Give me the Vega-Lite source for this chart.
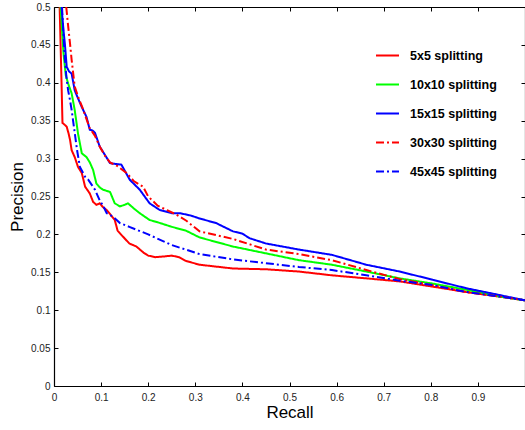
{
  "$schema": "https://vega.github.io/schema/vega-lite/v6.json",
  "autosize": "none",
  "padding": {"left": 54, "top": 7, "right": 0, "bottom": 44},
  "width": 471,
  "height": 379,
  "background": "white",
  "config": {
    "view": {"stroke": null},
    "font": "Liberation Sans",
    "axis": {
      "grid": false,
      "domainColor": "black",
      "domainWidth": 1.2,
      "tickColor": "black",
      "tickWidth": 1,
      "tickSize": -4,
      "labelFont": "Liberation Sans",
      "labelFontSize": 10,
      "labelColor": "#222",
      "labelFlush": false,
      "labelOverlap": false,
      "titleFont": "Liberation Sans",
      "titleFontSize": 17,
      "titleFontWeight": "normal",
      "titleColor": "black"
    }
  },
  "data": {
    "values": [
      {"s": "5x5 splitting", "r": 0.012, "p": 0.5},
      {"s": "5x5 splitting", "r": 0.016, "p": 0.40},
      {"s": "5x5 splitting", "r": 0.018, "p": 0.347},
      {"s": "5x5 splitting", "r": 0.022, "p": 0.345},
      {"s": "5x5 splitting", "r": 0.027, "p": 0.342},
      {"s": "5x5 splitting", "r": 0.031, "p": 0.333},
      {"s": "5x5 splitting", "r": 0.034, "p": 0.325},
      {"s": "5x5 splitting", "r": 0.0375, "p": 0.311},
      {"s": "5x5 splitting", "r": 0.044, "p": 0.302},
      {"s": "5x5 splitting", "r": 0.051, "p": 0.289},
      {"s": "5x5 splitting", "r": 0.059, "p": 0.281},
      {"s": "5x5 splitting", "r": 0.066, "p": 0.263},
      {"s": "5x5 splitting", "r": 0.076, "p": 0.254},
      {"s": "5x5 splitting", "r": 0.083, "p": 0.243},
      {"s": "5x5 splitting", "r": 0.09, "p": 0.239},
      {"s": "5x5 splitting", "r": 0.097, "p": 0.241},
      {"s": "5x5 splitting", "r": 0.104, "p": 0.236},
      {"s": "5x5 splitting", "r": 0.112, "p": 0.232},
      {"s": "5x5 splitting", "r": 0.12, "p": 0.226},
      {"s": "5x5 splitting", "r": 0.129, "p": 0.219},
      {"s": "5x5 splitting", "r": 0.135, "p": 0.205},
      {"s": "5x5 splitting", "r": 0.145, "p": 0.198},
      {"s": "5x5 splitting", "r": 0.16, "p": 0.188},
      {"s": "5x5 splitting", "r": 0.175, "p": 0.184},
      {"s": "5x5 splitting", "r": 0.19, "p": 0.176},
      {"s": "5x5 splitting", "r": 0.2, "p": 0.172},
      {"s": "5x5 splitting", "r": 0.215, "p": 0.170},
      {"s": "5x5 splitting", "r": 0.235, "p": 0.171},
      {"s": "5x5 splitting", "r": 0.25, "p": 0.172},
      {"s": "5x5 splitting", "r": 0.265, "p": 0.170},
      {"s": "5x5 splitting", "r": 0.28, "p": 0.165},
      {"s": "5x5 splitting", "r": 0.309, "p": 0.160},
      {"s": "5x5 splitting", "r": 0.38, "p": 0.155},
      {"s": "5x5 splitting", "r": 0.45, "p": 0.154},
      {"s": "5x5 splitting", "r": 0.52, "p": 0.151},
      {"s": "5x5 splitting", "r": 0.59, "p": 0.146},
      {"s": "5x5 splitting", "r": 0.663, "p": 0.142},
      {"s": "5x5 splitting", "r": 0.734, "p": 0.138},
      {"s": "5x5 splitting", "r": 0.805, "p": 0.131},
      {"s": "5x5 splitting", "r": 0.875, "p": 0.124},
      {"s": "5x5 splitting", "r": 0.946, "p": 0.118},
      {"s": "5x5 splitting", "r": 1.0, "p": 0.113},

      {"s": "10x10 splitting", "r": 0.014, "p": 0.5},
      {"s": "10x10 splitting", "r": 0.02, "p": 0.44},
      {"s": "10x10 splitting", "r": 0.025, "p": 0.41},
      {"s": "10x10 splitting", "r": 0.030, "p": 0.399},
      {"s": "10x10 splitting", "r": 0.0375, "p": 0.386},
      {"s": "10x10 splitting", "r": 0.044, "p": 0.364},
      {"s": "10x10 splitting", "r": 0.051, "p": 0.333},
      {"s": "10x10 splitting", "r": 0.059, "p": 0.307},
      {"s": "10x10 splitting", "r": 0.069, "p": 0.302},
      {"s": "10x10 splitting", "r": 0.076, "p": 0.295},
      {"s": "10x10 splitting", "r": 0.083, "p": 0.285},
      {"s": "10x10 splitting", "r": 0.09, "p": 0.267},
      {"s": "10x10 splitting", "r": 0.097, "p": 0.262},
      {"s": "10x10 splitting", "r": 0.104, "p": 0.259},
      {"s": "10x10 splitting", "r": 0.119, "p": 0.256},
      {"s": "10x10 splitting", "r": 0.129, "p": 0.241},
      {"s": "10x10 splitting", "r": 0.14, "p": 0.237},
      {"s": "10x10 splitting", "r": 0.15, "p": 0.239},
      {"s": "10x10 splitting", "r": 0.157, "p": 0.241},
      {"s": "10x10 splitting", "r": 0.17, "p": 0.234},
      {"s": "10x10 splitting", "r": 0.182, "p": 0.228},
      {"s": "10x10 splitting", "r": 0.203, "p": 0.219},
      {"s": "10x10 splitting", "r": 0.22, "p": 0.216},
      {"s": "10x10 splitting", "r": 0.25, "p": 0.21},
      {"s": "10x10 splitting", "r": 0.28, "p": 0.205},
      {"s": "10x10 splitting", "r": 0.309, "p": 0.196},
      {"s": "10x10 splitting", "r": 0.38, "p": 0.184},
      {"s": "10x10 splitting", "r": 0.45, "p": 0.175},
      {"s": "10x10 splitting", "r": 0.52, "p": 0.166},
      {"s": "10x10 splitting", "r": 0.59, "p": 0.160},
      {"s": "10x10 splitting", "r": 0.663, "p": 0.151},
      {"s": "10x10 splitting", "r": 0.734, "p": 0.142},
      {"s": "10x10 splitting", "r": 0.805, "p": 0.135},
      {"s": "10x10 splitting", "r": 0.875, "p": 0.127},
      {"s": "10x10 splitting", "r": 0.946, "p": 0.118},
      {"s": "10x10 splitting", "r": 1.0, "p": 0.113},

      {"s": "15x15 splitting", "r": 0.016, "p": 0.5},
      {"s": "15x15 splitting", "r": 0.02, "p": 0.47},
      {"s": "15x15 splitting", "r": 0.023, "p": 0.452},
      {"s": "15x15 splitting", "r": 0.027, "p": 0.421},
      {"s": "15x15 splitting", "r": 0.032, "p": 0.415},
      {"s": "15x15 splitting", "r": 0.0375, "p": 0.412},
      {"s": "15x15 splitting", "r": 0.044, "p": 0.390},
      {"s": "15x15 splitting", "r": 0.052, "p": 0.378},
      {"s": "15x15 splitting", "r": 0.059, "p": 0.368},
      {"s": "15x15 splitting", "r": 0.069, "p": 0.355},
      {"s": "15x15 splitting", "r": 0.076, "p": 0.338},
      {"s": "15x15 splitting", "r": 0.082, "p": 0.337},
      {"s": "15x15 splitting", "r": 0.087, "p": 0.334},
      {"s": "15x15 splitting", "r": 0.097, "p": 0.316},
      {"s": "15x15 splitting", "r": 0.11, "p": 0.303},
      {"s": "15x15 splitting", "r": 0.119, "p": 0.294},
      {"s": "15x15 splitting", "r": 0.13, "p": 0.293},
      {"s": "15x15 splitting", "r": 0.143, "p": 0.292},
      {"s": "15x15 splitting", "r": 0.152, "p": 0.282},
      {"s": "15x15 splitting", "r": 0.161, "p": 0.272},
      {"s": "15x15 splitting", "r": 0.182, "p": 0.259},
      {"s": "15x15 splitting", "r": 0.203, "p": 0.241},
      {"s": "15x15 splitting", "r": 0.225, "p": 0.232},
      {"s": "15x15 splitting", "r": 0.25, "p": 0.228},
      {"s": "15x15 splitting", "r": 0.267, "p": 0.228},
      {"s": "15x15 splitting", "r": 0.29, "p": 0.225},
      {"s": "15x15 splitting", "r": 0.309, "p": 0.221},
      {"s": "15x15 splitting", "r": 0.344, "p": 0.215},
      {"s": "15x15 splitting", "r": 0.38, "p": 0.204},
      {"s": "15x15 splitting", "r": 0.4, "p": 0.201},
      {"s": "15x15 splitting", "r": 0.415, "p": 0.195},
      {"s": "15x15 splitting", "r": 0.45, "p": 0.188},
      {"s": "15x15 splitting", "r": 0.52, "p": 0.180},
      {"s": "15x15 splitting", "r": 0.59, "p": 0.173},
      {"s": "15x15 splitting", "r": 0.663, "p": 0.160},
      {"s": "15x15 splitting", "r": 0.734, "p": 0.151},
      {"s": "15x15 splitting", "r": 0.805, "p": 0.140},
      {"s": "15x15 splitting", "r": 0.875, "p": 0.129},
      {"s": "15x15 splitting", "r": 0.946, "p": 0.120},
      {"s": "15x15 splitting", "r": 1.0, "p": 0.113},

      {"s": "30x30 splitting", "r": 0.026, "p": 0.5},
      {"s": "30x30 splitting", "r": 0.030, "p": 0.475},
      {"s": "30x30 splitting", "r": 0.034, "p": 0.452},
      {"s": "30x30 splitting", "r": 0.0375, "p": 0.430},
      {"s": "30x30 splitting", "r": 0.044, "p": 0.395},
      {"s": "30x30 splitting", "r": 0.052, "p": 0.380},
      {"s": "30x30 splitting", "r": 0.06, "p": 0.368},
      {"s": "30x30 splitting", "r": 0.069, "p": 0.352},
      {"s": "30x30 splitting", "r": 0.076, "p": 0.340},
      {"s": "30x30 splitting", "r": 0.087, "p": 0.330},
      {"s": "30x30 splitting", "r": 0.097, "p": 0.316},
      {"s": "30x30 splitting", "r": 0.11, "p": 0.302},
      {"s": "30x30 splitting", "r": 0.119, "p": 0.295},
      {"s": "30x30 splitting", "r": 0.135, "p": 0.290},
      {"s": "30x30 splitting", "r": 0.154, "p": 0.281},
      {"s": "30x30 splitting", "r": 0.17, "p": 0.27},
      {"s": "30x30 splitting", "r": 0.189, "p": 0.263},
      {"s": "30x30 splitting", "r": 0.2, "p": 0.25},
      {"s": "30x30 splitting", "r": 0.22, "p": 0.238},
      {"s": "30x30 splitting", "r": 0.24, "p": 0.232},
      {"s": "30x30 splitting", "r": 0.26, "p": 0.226},
      {"s": "30x30 splitting", "r": 0.281, "p": 0.218},
      {"s": "30x30 splitting", "r": 0.309, "p": 0.204},
      {"s": "30x30 splitting", "r": 0.38, "p": 0.194},
      {"s": "30x30 splitting", "r": 0.45, "p": 0.180},
      {"s": "30x30 splitting", "r": 0.52, "p": 0.174},
      {"s": "30x30 splitting", "r": 0.59, "p": 0.166},
      {"s": "30x30 splitting", "r": 0.663, "p": 0.153},
      {"s": "30x30 splitting", "r": 0.734, "p": 0.141},
      {"s": "30x30 splitting", "r": 0.805, "p": 0.133},
      {"s": "30x30 splitting", "r": 0.875, "p": 0.124},
      {"s": "30x30 splitting", "r": 0.946, "p": 0.118},
      {"s": "30x30 splitting", "r": 1.0, "p": 0.113},

      {"s": "45x45 splitting", "r": 0.017, "p": 0.5},
      {"s": "45x45 splitting", "r": 0.022, "p": 0.44},
      {"s": "45x45 splitting", "r": 0.026, "p": 0.41},
      {"s": "45x45 splitting", "r": 0.030, "p": 0.39},
      {"s": "45x45 splitting", "r": 0.034, "p": 0.377},
      {"s": "45x45 splitting", "r": 0.0375, "p": 0.364},
      {"s": "45x45 splitting", "r": 0.044, "p": 0.334},
      {"s": "45x45 splitting", "r": 0.049, "p": 0.311},
      {"s": "45x45 splitting", "r": 0.055, "p": 0.289},
      {"s": "45x45 splitting", "r": 0.066, "p": 0.276},
      {"s": "45x45 splitting", "r": 0.073, "p": 0.272},
      {"s": "45x45 splitting", "r": 0.087, "p": 0.259},
      {"s": "45x45 splitting", "r": 0.097, "p": 0.245},
      {"s": "45x45 splitting", "r": 0.104, "p": 0.238},
      {"s": "45x45 splitting", "r": 0.112, "p": 0.228},
      {"s": "45x45 splitting", "r": 0.126, "p": 0.223},
      {"s": "45x45 splitting", "r": 0.14, "p": 0.215},
      {"s": "45x45 splitting", "r": 0.16, "p": 0.21},
      {"s": "45x45 splitting", "r": 0.2, "p": 0.2},
      {"s": "45x45 splitting", "r": 0.25, "p": 0.186},
      {"s": "45x45 splitting", "r": 0.309, "p": 0.174},
      {"s": "45x45 splitting", "r": 0.38, "p": 0.167},
      {"s": "45x45 splitting", "r": 0.45, "p": 0.162},
      {"s": "45x45 splitting", "r": 0.52, "p": 0.157},
      {"s": "45x45 splitting", "r": 0.59, "p": 0.153},
      {"s": "45x45 splitting", "r": 0.663, "p": 0.146},
      {"s": "45x45 splitting", "r": 0.734, "p": 0.139},
      {"s": "45x45 splitting", "r": 0.805, "p": 0.133},
      {"s": "45x45 splitting", "r": 0.875, "p": 0.124},
      {"s": "45x45 splitting", "r": 0.946, "p": 0.118},
      {"s": "45x45 splitting", "r": 1.0, "p": 0.113}
    ]
  },
  "layer": [
    {
      "mark": {"type": "line", "strokeWidth": 2, "clip": true},
      "encoding": {
        "x": {
          "field": "r", "type": "quantitative",
          "scale": {"domain": [0, 1], "nice": false, "zero": false},
          "axis": {"title": "Recall", "values": [0, 0.1, 0.2, 0.3, 0.4, 0.5, 0.6, 0.7, 0.8, 0.9], "format": "~g", "labelPadding": 10, "titlePadding": 2}
        },
        "y": {
          "field": "p", "type": "quantitative",
          "scale": {"domain": [0, 0.5], "nice": false, "zero": false},
          "axis": {"title": "Precision", "values": [0, 0.05, 0.1, 0.15, 0.2, 0.25, 0.3, 0.35, 0.4, 0.45, 0.5], "format": "~g", "labelPadding": 8, "titlePadding": 4}
        },
        "color": {
          "field": "s", "type": "nominal",
          "scale": {
            "domain": ["5x5 splitting", "10x10 splitting", "15x15 splitting", "30x30 splitting", "45x45 splitting"],
            "range": ["#ff0000", "#00ff00", "#0000ff", "#ff0000", "#0000ff"]
          },
          "legend": {
            "title": null,
            "orient": "none",
            "legendX": 321,
            "legendY": 36,
            "padding": 0,
            "symbolType": "stroke",
            "symbolSize": 529,
            "symbolStrokeWidth": 2,
            "labelFont": "Liberation Sans",
            "labelFontSize": 12.5,
            "labelFontWeight": "bold",
            "labelColor": "black",
            "labelOffset": 10,
            "rowPadding": 10,
            "labelLimit": 200
          }
        },
        "strokeDash": {
          "field": "s", "type": "nominal",
          "scale": {
            "domain": ["5x5 splitting", "10x10 splitting", "15x15 splitting", "30x30 splitting", "45x45 splitting"],
            "range": [[1, 0], [1, 0], [1, 0], [8, 3, 2, 3], [8, 3, 2, 3]]
          },
          "legend": null
        },
        "order": {"field": "r", "type": "quantitative"}
      }
    },
    {
      "mark": {"type": "line", "strokeOpacity": 0, "clip": true},
      "encoding": {
        "detail": {"field": "s"},
        "x": {
          "field": "r", "type": "quantitative",
          "axis": {"orient": "top", "title": null, "labels": false, "values": [0, 0.1, 0.2, 0.3, 0.4, 0.5, 0.6, 0.7, 0.8, 0.9, 1]}
        },
        "y": {
          "field": "p", "type": "quantitative",
          "axis": {"orient": "right", "title": null, "labels": false, "values": [0, 0.05, 0.1, 0.15, 0.2, 0.25, 0.3, 0.35, 0.4, 0.45, 0.5]}
        }
      }
    }
  ],
  "resolve": {"axis": {"x": "independent", "y": "independent"}}
}
